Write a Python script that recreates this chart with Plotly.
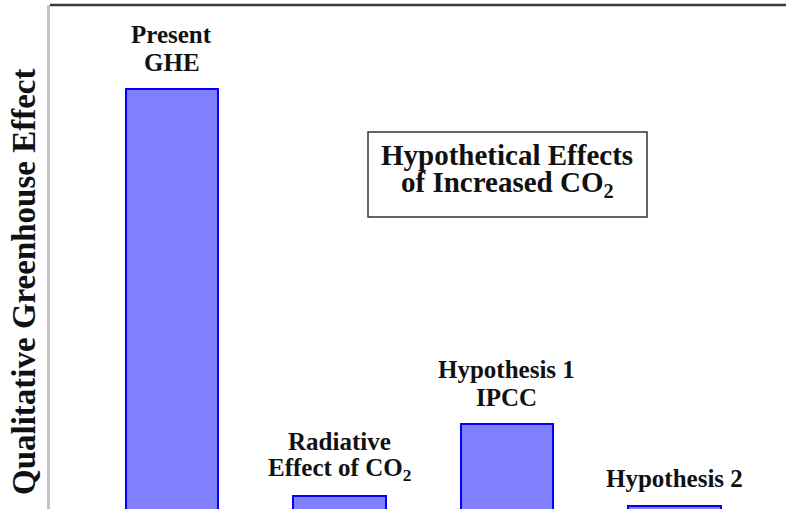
import plotly.graph_objects as go

# ---- data ----
categories = ["Present GHE", "Radiative Effect of CO2", "Hypothesis 1 IPCC", "Hypothesis 2"]
label_lines = [
    ["Present", "GHE"],
    ["Radiative", "Effect of CO<sub>2</sub>"],
    ["Hypothesis 1", "IPCC"],
    ["Hypothesis 2"],
]
values = [100, 5.1, 21.9, 2.8]
y_title = "Qualitative Greenhouse Effect"
box_lines = ["Hypothetical Effects", "of Increased CO<sub>2</sub>"]

FONT = "Liberation Serif"
W, H = 786, 509
ML, MR, MT, MB = 50, 0, 5, 0
PW, PH = W - ML - MR, H - MT - MB

def px_x(p):
    return (p - ML) / PW

def px_y(p):
    return (H - MB - p) / PH

xpos = list(range(len(categories)))

fig = go.Figure()
fig.add_trace(go.Bar(
    x=xpos, y=values, width=0.55,
    marker=dict(color="#8080ff", line=dict(color="#0000ff", width=2)),
    hoverinfo="skip", showlegend=False,
))

annotations = []
for i, (lines, v) in enumerate(zip(label_lines, values)):
    n = len(lines)
    for j, line in enumerate(lines):
        shift = 27 + 28 * (n - 1 - j)
        annotations.append(dict(
            x=i, y=v, xref="x", yref="y", text="<b>%s</b>" % line,
            showarrow=False, xanchor="center", yanchor="middle", yshift=shift,
            font=dict(family=FONT, size=25, color="#111111"),
        ))

# y-axis title
annotations.append(dict(
    x=0, y=px_y(282), xref="paper", yref="paper", xshift=-26,
    text="<b>%s</b>" % y_title, textangle=-90, showarrow=False,
    xanchor="center", yanchor="middle",
    font=dict(family=FONT, size=33, color="#111111"),
))

# box text
for j, (line, cy) in enumerate(zip(box_lines, [155, 184])):
    annotations.append(dict(
        x=px_x(507), y=px_y(cy), xref="paper", yref="paper",
        text="<b>%s</b>" % line, showarrow=False,
        xanchor="center", yanchor="middle",
        font=dict(family=FONT, size=29, color="#111111"),
    ))

shapes = [
    dict(type="rect", xref="paper", yref="paper",
         x0=px_x(368), x1=px_x(647), y0=px_y(217), y1=px_y(132),
         line=dict(color="#333333", width=1.5), fillcolor="rgba(0,0,0,0)"),
    dict(type="line", xref="paper", yref="paper", x0=0, x1=1, y0=1, y1=1,
         line=dict(color="#3a3a3a", width=2.5)),
]

x0 = -0.728
x1 = x0 + PW / 167.5
base_px = 518
scale = (base_px - 89) / 100.0
fig.update_layout(
    width=W, height=H,
    margin=dict(l=ML, r=MR, t=MT, b=MB, pad=0),
    paper_bgcolor="white", plot_bgcolor="white",
    xaxis=dict(range=[x0, x1], showgrid=False, zeroline=False, showline=False,
               showticklabels=False, ticks="", fixedrange=True),
    yaxis=dict(range=[(base_px - (H - MB)) / scale, (base_px - MT) / scale],
               showgrid=False, zeroline=False, showline=True,
               linecolor="#c4c4c4", linewidth=3, showticklabels=False, ticks="",
               fixedrange=True),
    annotations=annotations, shapes=shapes,
    bargap=0,
)

fig.write_html("out.html", config={"displayModeBar": False},
               post_script="document.body.style.margin='0';document.body.style.overflow='hidden';")
